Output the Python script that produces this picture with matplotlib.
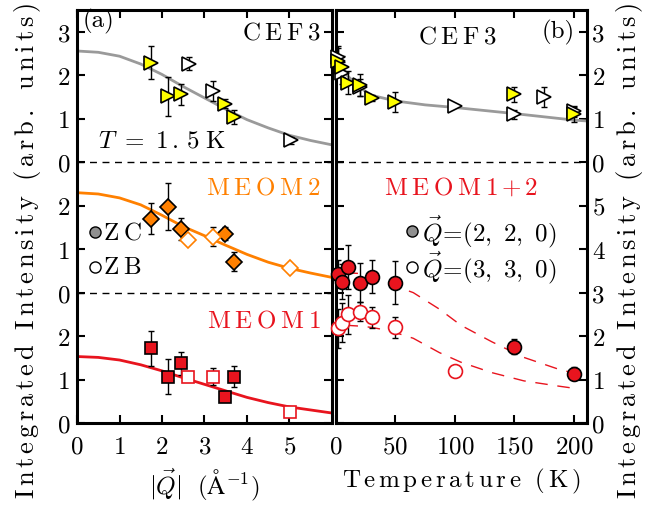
import numpy as np
import matplotlib
matplotlib.use('Agg')
from matplotlib import pyplot as plt

plt.rcParams['font.family'] = 'cmr10'
plt.rcParams['mathtext.fontset'] = 'cm'
plt.rcParams['axes.formatter.use_mathtext'] = True
plt.rcParams['axes.unicode_minus'] = False

# ---- (a) intensity vs |Q| at T = 1.5 K ----
# CEF3 (drawn with offset 6)
cef_q_zc = [1.74, 2.13, 2.45, 3.48, 3.70]
cef_i_zc = [2.29, 1.52, 1.56, 1.35, 1.04]
cef_e_zc = [0.38, 0.45, 0.24, 0.10, 0.17]
cef_q_zb = [2.63, 3.21, 5.03]
cef_i_zb = [2.27, 1.64, 0.51]
cef_e_zb = [0.15, 0.24, 0.08]

# MEOM2 (offset 3)
m2_q_zc = [1.74, 2.13, 2.45, 3.48, 3.70]
m2_i_zc = [1.70, 1.98, 1.46, 1.36, 0.71]
m2_e_zc = [0.36, 0.55, 0.25, 0.15, 0.22]
m2_q_zb = [2.61, 3.21, 5.01]
m2_i_zb = [1.20, 1.29, 0.57]
m2_e_zb = [0.0, 0.22, 0.0]

# MEOM1 (offset 0)
m1_q_zc = [1.74, 2.13, 2.45, 3.48, 3.70]
m1_i_zc = [1.72, 1.07, 1.37, 0.59, 1.07]
m1_e_zc = [0.40, 0.40, 0.26, 0.0, 0.25]
m1_q_zb = [2.61, 3.21, 5.01]
m1_i_zb = [1.07, 1.07, 0.25]
m1_e_zb = [0.10, 0.19, 0.0]

# fitted form-factor curves
fit_q = [0, 0.5, 1, 1.5, 2, 2.5, 3, 3.5, 4, 4.5, 5, 5.5, 6]
fit_cef = [2.56, 2.53, 2.44, 2.26, 2.02, 1.74, 1.48, 1.22, 0.98, 0.79, 0.62, 0.50, 0.40]
fit_m2 = [2.30, 2.27, 2.18, 2.02, 1.78, 1.52, 1.31, 1.09, 0.88, 0.70, 0.56, 0.45, 0.35]
fit_m1 = [1.53, 1.51, 1.45, 1.34, 1.20, 1.04, 0.89, 0.74, 0.59, 0.47, 0.37, 0.30, 0.23]

# ---- (b) intensity vs temperature ----
cefT_220 = [1.5, 5, 10, 20, 30, 50, 150, 200]
cefI_220 = [2.32, 2.20, 1.83, 1.77, 1.47, 1.39, 1.56, 1.10]
cefE_220 = [0.30, 0.25, 0.27, 0.25, 0.07, 0.23, 0.17, 0.18]
cefT_330 = [1.5, 5, 20, 100, 150, 175, 200]
cefI_330 = [2.42, 2.05, 1.72, 1.29, 1.10, 1.51, 1.17]
cefE_330 = [0.25, 0.25, 0.20, 0.0, 0.10, 0.23, 0.12]
fitT_cef = [0, 5, 10, 20, 30, 50, 75, 100, 150, 200, 211]
fitI_cef = [2.48, 2.18, 1.98, 1.72, 1.54, 1.41, 1.32, 1.26, 1.12, 0.97, 0.95]

meT_220 = [1.5, 5, 10, 20, 30, 50, 150, 200]
meI_220 = [3.44, 3.25, 3.59, 3.23, 3.37, 3.23, 1.76, 1.13]
meE_220 = [0.30, 0.40, 0.50, 0.45, 0.37, 0.50, 0.18, 0.15]
meT_330 = [1.5, 5, 10, 20, 30, 50, 100]
meI_330 = [2.18, 2.31, 2.50, 2.56, 2.43, 2.20, 1.20]
meE_330 = [0.45, 0.45, 0.45, 0.22, 0.24, 0.25, 0.0]
fitT_me = [8, 20, 30, 40, 50, 65, 87, 105, 131, 158, 187, 200]
fitI_me220 = [3.46, 3.44, 3.38, 3.28, 3.15, 3.00, 2.62, 2.25, 1.87, 1.51, 1.24, 1.15]
fitI_me330 = [2.25, 2.23, 2.20, 2.15, 2.08, 1.95, 1.62, 1.40, 1.16, 0.97, 0.85, 0.80]

ytick_left = ['0', '1', '2', '0', '1', '2', '0', '1', '2', '3']
ytick_right = ['0', '1', '2', '3', '4', '5', '0', '1', '2', '3']

yellow = '#ffff00'
orange = '#ff8000'
red = '#e8141e'
gray = '#9a9a9a'
fs = 18


def sp(s, gap=r'\,'):
    # letter-spaced roman text, like the original typesetting
    parts = [r'\ ' if c == ' ' else c for c in s]
    return r'$\mathrm{' + gap.join(parts) + '}$'


def errpts(ax, x, y, e, off, marker, fc, ec, ms):
    y = np.array(y) + off
    ax.errorbar(x, y, yerr=e, fmt='none', ecolor='k', elinewidth=1, capsize=2,
                capthick=1, zorder=3, clip_on=False)
    ax.plot(x, y, marker, ms=ms, mfc=fc, mec=ec, mew=1.2, ls='none', zorder=4,
            clip_on=False)


fig = plt.figure(figsize=(6.45, 5.06), dpi=100)
ax1 = fig.add_axes([0.1194, 0.162, 0.3953, 0.816])
ax2 = fig.add_axes([0.5209, 0.162, 0.389, 0.816])

# --- panel (a) ---
ax1.plot(fit_q, np.array(fit_cef) + 6, color=gray, lw=2, zorder=2)
ax1.plot(fit_q, np.array(fit_m2) + 3, color=orange, lw=2, zorder=2)
ax1.plot(fit_q, fit_m1, color=red, lw=2, zorder=2)
errpts(ax1, cef_q_zc, cef_i_zc, cef_e_zc, 6, '>', yellow, 'k', 10)
errpts(ax1, cef_q_zb, cef_i_zb, cef_e_zb, 6, '>', 'white', 'k', 10)
errpts(ax1, m2_q_zc, m2_i_zc, m2_e_zc, 3, 'D', orange, 'k', 8)
errpts(ax1, m2_q_zb, m2_i_zb, m2_e_zb, 3, 'D', 'white', orange, 8)
errpts(ax1, m1_q_zc, m1_i_zc, m1_e_zc, 0, 's', red, 'k', 8)
errpts(ax1, m1_q_zb, m1_i_zb, m1_e_zb, 0, 's', 'white', red, 8)
for yy in (3, 6):
    ax1.axhline(yy, color='k', ls=(0, (5, 4)), lw=1, zorder=1)

ax1.text(0.14, 9.27, '(a)', fontsize=fs, ha='left', va='center')
ax1.text(5.75, 8.98, sp('CEF3', r'\:'), fontsize=fs, ha='right', va='center')
ax1.text(0.5, 6.5, r'$T\ =\ 1\,.\,5\;\mathrm{K}$', fontsize=fs, ha='left', va='center')
ax1.text(5.75, 5.43, sp('MEOM2', r'\:'), fontsize=fs, ha='right', va='center',
         color=orange)
ax1.text(5.75, 2.37, sp('MEOM1', r'\:'), fontsize=fs, ha='right', va='center',
         color=red)
ax1.plot([0.42], [4.39], 'o', ms=8, mfc='#909090', mec='k', mew=1)
ax1.plot([0.42], [3.59], 'o', ms=8, mfc='white', mec='k', mew=1)
ax1.text(0.62, 4.39, sp('ZC', r'\:'), fontsize=fs, ha='left', va='center')
ax1.text(0.62, 3.59, sp('ZB', r'\:'), fontsize=fs, ha='left', va='center')

ax1.set_xlim(0, 6)
ax1.set_ylim(0, 9.5)
ax1.set_xticks([0, 1, 2, 3, 4, 5])
ax1.set_yticks(range(10))
ax1.set_yticklabels(ytick_left)
ax1.tick_params(direction='in', length=6, width=1.5, top=True, right=True,
                labelsize=fs)
ax1.tick_params(axis='x', pad=9)
ax1.tick_params(axis='y', pad=5)
ax1.set_xlabel(r'$|\vec{Q}|\ \ (\mathrm{\AA}^{-1})$', fontsize=fs, labelpad=6)
ax1.set_ylabel(sp('Integrated Intensity (arb. units)'), fontsize=19)
ax1.yaxis.label.set_va('center')
ax1.yaxis.set_label_coords(-0.195, 0.42)

# --- panel (b) ---
ax2.plot(fitT_cef, np.array(fitI_cef) + 6, color=gray, lw=2, zorder=2)
ax2.plot(fitT_me, fitI_me220, color=red, lw=1, ls=(0, (9, 7)), zorder=2)
ax2.plot(fitT_me, fitI_me330, color=red, lw=1, ls=(0, (9, 7)), zorder=2)
errpts(ax2, cefT_330, cefI_330, cefE_330, 6, '>', 'white', 'k', 10)
errpts(ax2, cefT_220, cefI_220, cefE_220, 6, '>', yellow, 'k', 10)
errpts(ax2, meT_330, meI_330, meE_330, 0, 'o', 'white', red, 10)
errpts(ax2, meT_220, meI_220, meE_220, 0, 'o', red, 'k', 10)
ax2.axhline(6, color='k', ls=(0, (5, 4)), lw=1, zorder=1)

ax2.text(69, 8.9, sp('CEF3', r'\:'), fontsize=fs, ha='left', va='center')
ax2.text(201, 9.0, '(b)', fontsize=fs, ha='right', va='center')
ax2.text(40, 5.43, r'$\mathrm{M\:E\:O\:M\:1\,{+}\,2}$', fontsize=fs, ha='left',
         va='center', color=red)
ax2.plot([64], [4.41], 'o', ms=8, mfc='#909090', mec='k', mew=1)
ax2.plot([64], [3.59], 'o', ms=8, mfc='white', mec='k', mew=1)
ax2.text(72, 4.41, r'$\vec{Q}\!=\!(2,\ 2,\ 0)$', fontsize=fs, ha='left', va='center')
ax2.text(72, 3.59, r'$\vec{Q}\!=\!(3,\ 3,\ 0)$', fontsize=fs, ha='left', va='center')

ax2.set_xlim(0, 211)
ax2.set_ylim(0, 9.5)
ax2.set_xticks([0, 50, 100, 150, 200])
ax2.set_yticks(range(10))
ax2.set_yticklabels(ytick_right)
ax2.tick_params(direction='in', length=6, width=1.5, top=True, left=True,
                right=True, labelleft=False, labelright=True, labelsize=fs)
ax2.tick_params(axis='x', pad=9)
ax2.tick_params(axis='y', pad=4)
ax2.set_xlabel(sp('Temperature (K)'), fontsize=fs, labelpad=6)
ax2.yaxis.set_label_position('right')
ax2.set_ylabel(sp('Integrated Intensity (arb. units)'), fontsize=19, rotation=90)
ax2.yaxis.label.set_va('center')
ax2.yaxis.set_label_coords(1.17, 0.42)

for ax in (ax1, ax2):
    for s in ax.spines.values():
        s.set_linewidth(2.2)

fig.savefig('out.png', dpi=100)
